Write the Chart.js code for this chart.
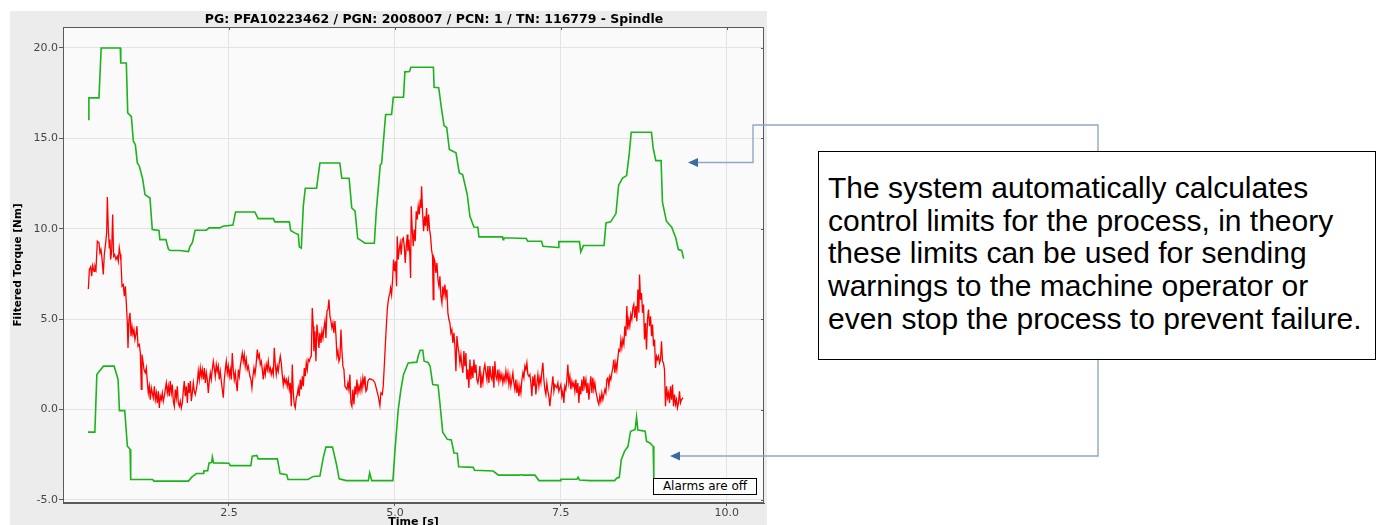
<!DOCTYPE html>
<html>
<head>
<meta charset="utf-8">
<script src="https://cdn.jsdelivr.net/npm/chart.js@4.4.0/dist/chart.umd.min.js"></script>
<style>
  html, body { margin: 0; padding: 0; width: 1376px; height: 525px; overflow: hidden; background: #ffffff; }
  #panel { position: absolute; left: 10px; top: 11px; width: 757px; height: 530px; background: #ececec; }
  #chart { display: block; }
  #alarm { position: absolute; left: 653px; top: 478px; width: 104px; height: 17px; box-sizing: border-box;
           border: 1px solid #000; background: #fff; font: 12px "DejaVu Sans"; line-height: 15px;
           text-align: center; color: #000; }
  #note { position: absolute; left: 818px; top: 151px; width: 558px; height: 209px; box-sizing: border-box;
          border: 1.5px solid #000; background: #fff; }
  #noteText { position: absolute; left: 828px; top: 172px; font: 30px "Liberation Sans", Arial, sans-serif;
              line-height: 32.7px; color: #000; white-space: nowrap; }
  #links { position: absolute; left: 0; top: 0; }
</style>
</head>
<body>
<div id="panel"><canvas id="chart" width="757" height="530"></canvas></div>
<div id="alarm">Alarms are off</div>
<svg id="links" width="1376" height="525">
  <polyline points="697,162.5 753,162.5 753,125 1098,125 1098,151" fill="none" stroke="#8fa8c6" stroke-width="1.4"/>
  <polygon points="688,162.5 698,158 698,167" fill="#3c6c9f"/>
  <polyline points="1098,359 1098,456 679,456" fill="none" stroke="#8fa8c6" stroke-width="1.4"/>
  <polygon points="670,456 680,451.5 680,460.5" fill="#3c6c9f"/>
</svg>
<div id="note"></div>
<div id="noteText">The system automatically calculates<br>control limits for the process, in theory<br>these limits can be used for sending<br>warnings to the machine operator or<br>even stop the process to prevent failure.</div>

<script>
// Axis ticks
const timeTicks = [2.5, 5.0, 7.5, 10.0];
const torqueTicks = [-5, 0, 5, 10, 15, 20];

// Upper control limit [time s, torque Nm]
const upperLimit = [
  [0.377,16.04],[0.39,17.24],[0.542,17.24],[0.575,20.0],[0.863,20.0],[0.87,19.17],[0.954,19.17],
  [0.975,16.41],[1.03,16.2],[1.06,14.84],[1.09,14.65],[1.12,13.64],[1.15,13.46],[1.20,12.76],
  [1.235,11.89],[1.31,11.7],[1.345,9.96],[1.446,9.9],[1.46,9.4],[1.55,9.4],[1.586,8.89],[1.61,8.8],
  [1.76,8.8],[1.89,8.74],[1.91,9.0],[1.95,9.24],[1.99,9.92],[2.16,9.92],[2.2,10.05],[2.36,10.05],
  [2.41,10.14],[2.56,10.2],[2.6,10.93],[2.89,10.93],[2.94,10.56],[3.17,10.56],[3.19,10.38],
  [3.41,10.38],[3.43,9.9],[3.49,9.77],[3.545,9.68],[3.56,9.0],[3.59,8.93],[3.62,11.25],[3.65,12.24],
  [3.82,12.24],[3.87,13.64],[4.17,13.64],[4.2,12.79],[4.31,12.79],[4.35,11.15],[4.4,10.97],
  [4.44,9.46],[4.47,9.4],[4.55,9.2],[4.69,9.2],[4.72,11.0],[4.78,13.55],[4.8,13.6],[4.86,16.32],
  [4.95,16.32],[4.975,17.27],[5.13,17.27],[5.15,18.68],[5.22,18.7],[5.24,18.93],[5.58,18.93],
  [5.59,17.83],[5.66,17.8],[5.70,16.69],[5.74,15.71],[5.78,15.6],[5.82,14.38],[5.92,14.2],
  [5.97,13.09],[6.02,13.0],[6.09,11.89],[6.13,10.69],[6.19,10.1],[6.25,10.08],[6.265,9.55],
  [6.62,9.55],[6.63,9.4],[6.64,9.5],[6.98,9.46],[7.0,9.31],[7.21,9.31],[7.23,9.03],[7.46,8.96],
  [7.47,9.29],[7.78,9.29],[7.80,8.72],[7.84,9.07],[8.15,9.07],[8.18,10.32],[8.25,10.38],
  [8.33,10.84],[8.37,12.41],[8.43,12.8],[8.49,12.94],[8.53,14.14],[8.56,15.34],[8.865,15.34],
  [8.89,14.47],[8.93,13.77],[9.01,13.77],[9.03,11.47],[9.09,10.42],[9.17,10.09],[9.23,9.5],
  [9.27,8.85],[9.32,8.8],[9.35,8.35]
];

// Lower control limit [time s, torque Nm]
const lowerLimit = [
  [0.377,-1.25],[0.48,-1.25],[0.51,1.94],[0.53,2.03],[0.61,2.4],[0.77,2.4],[0.80,2.03],[0.83,1.66],
  [0.85,-0.06],[0.93,-0.06],[0.97,-2.03],[1.01,-2.2],[1.02,-3.87],[1.35,-3.87],[1.37,-3.96],
  [1.89,-3.96],[1.94,-3.74],[2.01,-3.54],[2.11,-3.54],[2.12,-3.4],[2.18,-3.38],[2.2,-2.95],
  [2.24,-2.93],[2.25,-2.62],[2.27,-2.95],[2.5,-2.97],[2.52,-3.1],[2.83,-3.1],[2.85,-2.58],
  [2.92,-2.54],[2.94,-2.73],[3.23,-2.73],[3.27,-3.54],[3.37,-3.6],[3.39,-3.87],[3.69,-3.87],
  [3.77,-3.7],[3.87,-3.68],[3.92,-2.67],[3.96,-2.08],[4.06,-2.08],[4.12,-3.04],[4.16,-3.83],
  [4.27,-3.93],[4.6,-3.93],[4.62,-3.5],[4.65,-3.93],[4.97,-3.93],[5.0,-2.3],[5.05,0.0],[5.09,1.1],
  [5.13,1.94],[5.2,2.58],[5.33,2.62],[5.35,2.95],[5.38,3.28],[5.42,3.28],[5.44,2.67],[5.5,2.6],
  [5.53,2.4],[5.57,1.38],[5.65,1.35],[5.68,0.28],[5.72,-1.25],[5.79,-1.65],[5.85,-1.68],
  [5.89,-2.4],[5.94,-2.42],[5.96,-3.17],[6.18,-3.2],[6.2,-3.36],[6.48,-3.4],[6.56,-3.63],
  [6.88,-3.63],[6.9,-3.6],[6.92,-3.63],[7.11,-3.63],[7.17,-3.93],[7.49,-3.93],[7.5,-3.86],
  [7.74,-3.86],[7.76,-3.74],[7.78,-3.9],[7.94,-3.93],[8.31,-3.93],[8.34,-3.8],[8.38,-3.75],
  [8.41,-2.77],[8.46,-2.3],[8.51,-2.05],[8.55,-1.2],[8.62,-1.1],[8.64,-0.41],[8.66,-1.14],
  [8.77,-1.2],[8.79,-1.75],[8.84,-1.85],[8.89,-2.03],[8.9,-3.78],[8.92,-3.95],[9.35,-3.95]
];

// Filtered spindle torque [time s, torque Nm]
const measuredTorque = [
  [0.382,6.67],[0.397,7.74],[0.417,7.89],[0.432,7.37],[0.447,7.96],[0.467,7.65],[0.482,7.93],[0.497,7.74],
  [0.517,9.31],[0.542,9.22],[0.557,8.67],[0.572,8.85],[0.587,8.39],[0.607,7.47],[0.622,8.57],[0.643,9.22],
  [0.658,9.77],[0.668,11.76],[0.683,9.96],[0.698,8.94],[0.708,9.40],[0.718,8.30],[0.733,8.76],[0.748,10.79],
  [0.763,8.48],[0.778,8.57],[0.798,8.30],[0.818,8.48],[0.833,8.20],[0.848,8.94],[0.863,8.57],[0.873,8.20],
  [0.889,6.82],[0.909,6.91],[0.924,6.27],[0.939,6.82],[0.954,5.90],[0.969,4.79],[0.979,3.41],[0.994,4.98],
  [1.009,5.35],[1.024,4.06],[1.039,4.61],[1.054,4.15],[1.069,4.42],[1.084,3.87],[1.099,4.15],[1.114,4.61],
  [1.130,3.50],[1.150,3.60],[1.165,3.13],[1.180,1.11],[1.190,3.04],[1.205,2.67],[1.220,2.21],[1.240,2.03],
  [1.255,2.30],[1.270,1.57],[1.285,0.92],[1.300,1.29],[1.315,0.55],[1.330,1.20],[1.345,0.92],[1.360,0.65],
  [1.376,1.29],[1.391,0.55],[1.406,0.92],[1.421,0.37],[1.436,1.01],[1.451,0.09],[1.466,0.74],[1.481,0.55],
  [1.496,0.92],[1.511,0.46],[1.526,0.74],[1.541,1.11],[1.556,1.47],[1.571,0.92],[1.586,1.29],[1.601,0.74],
  [1.616,1.57],[1.632,0.92],[1.647,1.38],[1.662,0.46],[1.677,0.18],[1.692,1.11],[1.707,0.65],[1.722,1.29],
  [1.737,0.37],[1.752,0.18],[1.767,0.46],[1.782,0.09],[1.797,0.37],[1.812,1.01],[1.827,1.57],[1.842,0.74],
  [1.857,1.29],[1.873,0.37],[1.888,1.47],[1.903,0.92],[1.918,1.57],[1.933,0.46],[1.948,0.92],[1.963,1.47],
  [1.978,1.01],[1.993,0.83],[2.008,1.11],[2.023,1.47],[2.038,2.12],[2.053,1.66],[2.068,2.30],[2.083,1.84],
  [2.098,2.21],[2.113,1.66],[2.129,2.30],[2.144,1.47],[2.159,2.03],[2.174,1.66],[2.189,0.92],[2.204,1.57],
  [2.219,2.03],[2.234,1.66],[2.249,2.21],[2.264,2.67],[2.279,2.30],[2.294,1.84],[2.309,2.49],[2.324,2.12],
  [2.339,2.40],[2.354,1.66],[2.369,2.12],[2.385,1.57],[2.400,1.11],[2.415,0.65],[2.430,1.66],[2.445,2.21],
  [2.460,2.67],[2.475,2.03],[2.490,2.40],[2.505,1.84],[2.520,2.21],[2.535,1.66],[2.550,3.13],[2.565,2.21],
  [2.580,1.66],[2.595,2.03],[2.610,1.47],[2.625,1.01],[2.641,2.21],[2.656,1.84],[2.671,2.40],[2.686,2.77],
  [2.701,3.13],[2.716,2.67],[2.731,3.04],[2.746,2.40],[2.761,2.77],[2.776,2.21],[2.791,2.40],[2.816,1.84],
  [2.831,1.66],[2.846,1.20],[2.861,1.84],[2.877,2.30],[2.892,1.94],[2.907,2.40],[2.927,3.32],[2.942,2.86],
  [2.957,3.04],[2.972,2.49],[2.987,2.67],[3.002,2.21],[3.017,1.66],[3.032,2.30],[3.047,1.94],[3.062,2.49],
  [3.077,2.21],[3.092,2.67],[3.107,2.12],[3.122,2.30],[3.137,1.94],[3.153,2.21],[3.168,1.94],[3.183,3.41],
  [3.198,2.49],[3.213,1.94],[3.228,2.40],[3.243,2.12],[3.258,2.58],[3.273,2.95],[3.288,2.58],[3.303,1.94],
  [3.318,1.38],[3.333,1.75],[3.348,1.47],[3.363,1.66],[3.378,1.29],[3.394,1.66],[3.409,1.11],[3.424,1.47],
  [3.439,0.18],[3.454,2.49],[3.469,0.92],[3.484,0.28],[3.499,0.09],[3.514,0.65],[3.529,0.83],[3.544,1.20],
  [3.559,0.74],[3.574,1.66],[3.589,1.11],[3.605,1.84],[3.620,1.29],[3.635,2.30],[3.650,1.84],[3.665,2.58],
  [3.680,2.21],[3.695,2.77],[3.710,2.67],[3.725,2.86],[3.740,2.95],[3.755,5.62],[3.770,4.61],[3.780,3.23],
  [3.795,4.33],[3.810,2.67],[3.825,4.70],[3.840,4.15],[3.855,3.41],[3.870,4.24],[3.886,3.69],[3.901,4.33],
  [3.916,3.96],[3.931,4.52],[3.946,4.89],[3.961,3.96],[3.976,5.44],[3.991,5.53],[4.006,6.08],[4.021,5.16],
  [4.036,4.89],[4.051,4.52],[4.066,4.79],[4.081,4.24],[4.096,4.89],[4.111,4.15],[4.127,2.95],[4.142,3.23],
  [4.157,2.67],[4.172,2.86],[4.187,4.42],[4.202,3.23],[4.217,2.40],[4.232,2.21],[4.247,1.29],[4.262,1.20],
  [4.277,1.11],[4.292,1.47],[4.307,1.11],[4.322,1.94],[4.337,0.37],[4.352,0.18],[4.367,1.11],[4.383,0.28],
  [4.398,1.29],[4.413,0.83],[4.428,1.66],[4.443,0.92],[4.458,1.29],[4.473,1.01],[4.488,1.57],[4.503,1.11],
  [4.518,1.75],[4.533,1.38],[4.548,1.84],[4.563,1.01],[4.578,1.11],[4.593,1.57],[4.608,1.66],[4.623,1.70],
  [4.649,1.66],[4.674,1.62],[4.699,1.47],[4.724,1.11],[4.749,0.74],[4.774,0.22],[4.789,0.92],[4.810,0.83],
  [4.824,1.29],[4.845,2.77],[4.865,4.24],[4.885,5.53],[4.905,6.18],[4.925,6.45],[4.935,6.73],[4.950,6.36],
  [4.965,7.19],[4.980,8.30],[4.995,7.65],[5.010,8.20],[5.025,6.82],[5.035,9.59],[5.050,8.30],[5.065,8.85],
  [5.080,9.22],[5.095,8.57],[5.110,9.40],[5.126,9.49],[5.141,9.03],[5.156,8.11],[5.171,9.03],[5.186,9.68],
  [5.196,8.76],[5.211,9.40],[5.226,8.48],[5.236,7.28],[5.246,11.25],[5.261,9.96],[5.276,9.03],[5.291,9.96],
  [5.306,9.31],[5.321,10.97],[5.336,10.51],[5.351,11.25],[5.367,10.79],[5.382,11.62],[5.392,11.15],[5.402,12.35],
  [5.417,10.88],[5.432,9.86],[5.447,10.69],[5.462,10.14],[5.477,11.15],[5.492,9.86],[5.507,10.79],[5.522,9.96],
  [5.537,9.59],[5.552,8.85],[5.567,8.48],[5.577,6.08],[5.587,8.39],[5.602,8.20],[5.617,7.56],[5.633,8.11],
  [5.648,7.19],[5.663,6.82],[5.678,7.37],[5.693,6.27],[5.708,5.90],[5.723,6.82],[5.738,6.36],[5.753,6.91],
  [5.768,6.27],[5.783,6.64],[5.798,5.35],[5.813,4.98],[5.828,4.79],[5.843,4.24],[5.858,4.42],[5.873,3.69],
  [5.889,4.24],[5.904,3.50],[5.919,2.12],[5.934,4.06],[5.949,3.50],[5.964,3.13],[5.979,2.58],[5.994,3.04],
  [6.009,2.40],[6.024,2.03],[6.039,3.23],[6.054,2.40],[6.069,3.13],[6.084,1.66],[6.099,2.21],[6.114,1.20],
  [6.130,2.77],[6.145,1.66],[6.160,2.40],[6.175,1.75],[6.190,2.77],[6.205,2.03],[6.220,2.49],[6.235,1.66],
  [6.250,1.47],[6.265,1.84],[6.280,2.40],[6.295,1.20],[6.310,1.84],[6.325,1.47],[6.340,2.21],[6.355,2.49],
  [6.371,2.03],[6.386,1.66],[6.401,2.40],[6.416,1.47],[6.431,2.40],[6.446,1.84],[6.461,1.66],[6.476,2.40],
  [6.491,1.20],[6.506,2.67],[6.521,1.84],[6.536,1.66],[6.551,2.21],[6.566,1.57],[6.581,2.03],[6.596,1.66],
  [6.611,1.94],[6.627,1.47],[6.642,1.84],[6.657,1.57],[6.672,2.12],[6.687,1.66],[6.702,2.03],[6.717,1.38],
  [6.732,1.84],[6.747,1.29],[6.762,1.66],[6.777,2.03],[6.792,1.47],[6.807,1.11],[6.822,1.66],[6.837,0.92],
  [6.852,1.38],[6.868,0.74],[6.883,1.29],[6.898,0.92],[6.913,1.66],[6.928,2.03],[6.943,1.75],[6.958,2.40],
  [6.973,2.21],[6.988,2.58],[7.003,1.94],[7.018,1.84],[7.033,1.94],[7.048,1.47],[7.063,0.74],[7.078,1.84],
  [7.093,1.29],[7.108,1.94],[7.123,0.83],[7.139,1.47],[7.154,1.94],[7.169,1.29],[7.184,1.75],[7.199,1.47],
  [7.214,2.12],[7.229,2.58],[7.244,1.66],[7.259,1.11],[7.274,0.83],[7.289,1.47],[7.304,1.01],[7.319,0.74],
  [7.334,0.18],[7.349,0.74],[7.364,1.29],[7.380,1.84],[7.395,1.01],[7.410,1.38],[7.425,1.29],[7.440,1.20],
  [7.455,1.47],[7.470,1.01],[7.485,1.20],[7.500,1.38],[7.515,0.74],[7.530,1.01],[7.545,0.37],[7.560,1.29],
  [7.575,1.11],[7.590,1.66],[7.605,2.49],[7.620,1.47],[7.636,1.84],[7.651,1.11],[7.666,1.57],[7.681,1.29],
  [7.696,1.47],[7.711,1.01],[7.726,1.66],[7.741,0.92],[7.756,1.47],[7.771,0.37],[7.786,1.29],[7.801,0.83],
  [7.816,1.66],[7.831,1.01],[7.846,1.84],[7.861,1.29],[7.877,1.66],[7.892,0.92],[7.907,1.47],[7.922,0.55],
  [7.937,1.29],[7.952,1.84],[7.967,0.92],[7.982,1.75],[7.997,1.11],[8.012,1.47],[8.027,1.01],[8.042,0.74],
  [8.057,0.46],[8.072,0.28],[8.087,0.74],[8.102,0.46],[8.117,0.92],[8.133,0.55],[8.148,0.83],[8.163,1.11],
  [8.178,0.92],[8.193,1.66],[8.208,1.75],[8.223,1.29],[8.238,1.84],[8.253,1.66],[8.268,2.03],[8.283,2.30],
  [8.298,2.77],[8.313,2.03],[8.328,2.58],[8.343,2.21],[8.358,2.86],[8.373,3.32],[8.389,3.23],[8.404,3.87],
  [8.419,3.41],[8.434,3.87],[8.449,3.60],[8.464,4.61],[8.479,4.06],[8.494,5.72],[8.509,4.42],[8.524,4.98],
  [8.539,4.61],[8.554,5.25],[8.569,4.98],[8.584,5.62],[8.599,5.81],[8.614,5.07],[8.630,5.72],[8.645,4.89],
  [8.660,6.64],[8.675,5.35],[8.685,7.47],[8.700,6.08],[8.715,6.45],[8.730,5.35],[8.745,5.81],[8.760,3.87],
  [8.775,4.79],[8.790,3.32],[8.805,4.98],[8.820,5.53],[8.835,4.61],[8.851,5.16],[8.866,4.06],[8.881,4.70],
  [8.896,3.50],[8.911,3.87],[8.926,2.30],[8.941,2.95],[8.956,2.77],[8.971,2.95],[8.986,2.58],[9.001,2.77],
  [9.016,3.78],[9.031,2.67],[9.046,2.58],[9.061,2.21],[9.076,0.18],[9.092,1.29],[9.107,0.65],[9.122,0.92],
  [9.137,0.37],[9.152,1.29],[9.167,0.55],[9.182,1.38],[9.197,0.18],[9.212,0.83],[9.227,0.28],[9.242,0.55],
  [9.257,0.09],[9.272,0.37],[9.287,1.01],[9.302,0.37],[9.317,0.55],[9.342,0.65]
];

const titleText = 'PG: PFA10223462 / PGN: 2008007 / PCN: 1 / TN: 116779 - Spindle';
const LIMIT_GREEN = '#1cb31c';
const TORQUE_RED = '#ff0000';
const FRAME = '#5a5a5a';

const toPoints = rows => rows.map(([x, y]) => ({ x, y }));

// Plot background, frame, inner ticks on top/right edges and the header line
const plotFrame = {
  id: 'plotFrame',
  beforeDraw(chart) {
    const { ctx, chartArea: a } = chart;
    ctx.save();
    ctx.fillStyle = '#fafafa';
    ctx.fillRect(a.left, a.top, a.right - a.left, a.bottom - a.top);
    ctx.restore();
  },
  afterDraw(chart) {
    const { ctx, chartArea: a, scales } = chart;
    ctx.save();
    ctx.strokeStyle = FRAME;
    ctx.lineWidth = 1;
    ctx.strokeRect(Math.round(a.left) + 0.5, Math.round(a.top) + 0.5,
                   Math.round(a.right - a.left) - 1, Math.round(a.bottom - a.top) - 1);
    ctx.beginPath();
    timeTicks.forEach(v => {
      const px = Math.round(scales.x.getPixelForValue(v)) + 0.5;
      ctx.moveTo(px, a.top); ctx.lineTo(px, a.top + 3);
    });
    torqueTicks.forEach(v => {
      const py = Math.round(scales.y.getPixelForValue(v)) + 0.5;
      ctx.moveTo(a.right - 3, py); ctx.lineTo(a.right, py);
    });
    ctx.stroke();
    ctx.fillStyle = '#000';
    ctx.font = 'bold 12.5px "DejaVu Sans"';
    ctx.textAlign = 'center';
    ctx.textBaseline = 'middle';
    ctx.fillText(titleText, 424, 8.5);
    ctx.restore();
  }
};

const tickFont = { family: 'DejaVu Sans', size: 11 };
const axisTitleFont = { family: 'DejaVu Sans', size: 11, weight: 'bold' };

new Chart(document.getElementById('chart'), {
  type: 'line',
  data: {
    datasets: [
      { label: 'Upper limit', data: toPoints(upperLimit), borderColor: LIMIT_GREEN, borderWidth: 1.6,
        pointRadius: 0, tension: 0, fill: false },
      { label: 'Filtered torque', data: toPoints(measuredTorque), borderColor: TORQUE_RED, borderWidth: 1.3,
        pointRadius: 0, tension: 0, fill: false },
      { label: 'Lower limit', data: toPoints(lowerLimit), borderColor: LIMIT_GREEN, borderWidth: 1.6,
        pointRadius: 0, tension: 0, fill: false }
    ]
  },
  options: {
    responsive: false,
    animation: false,
    parsing: true,
    layout: { padding: { left: 0, right: 3, top: 16, bottom: 0 } },
    plugins: {
      legend: { display: false },
      tooltip: { enabled: false },
      title: { display: false }
    },
    scales: {
      x: {
        type: 'linear', min: 0, max: 10.56,
        afterBuildTicks: s => { s.ticks = timeTicks.map(v => ({ value: v })); },
        afterFit: s => { s.height = 38; },
        ticks: { callback: v => Number(v).toFixed(1), font: tickFont, color: '#444', padding: 1,
                 maxRotation: 0, autoSkip: false },
        grid: { color: '#e3e3e3', tickColor: FRAME, tickLength: 3 },
        border: { color: FRAME },
        title: { display: true, text: 'Time [s]', font: axisTitleFont, color: '#000',
                 padding: { top: 0, bottom: 12.4 } }
      },
      y: {
        type: 'linear', min: -5.17, max: 21.16,
        afterBuildTicks: s => { s.ticks = torqueTicks.map(v => ({ value: v })); },
        afterFit: s => { s.width = 53; },
        ticks: { callback: v => Number(v).toFixed(1), font: tickFont, color: '#444', padding: 1 },
        grid: { color: '#e3e3e3', tickColor: FRAME, tickLength: 4 },
        border: { color: FRAME },
        title: { display: true, text: 'Filtered Torque [Nm]', font: { family: 'DejaVu Sans', size: 10.5, weight: 'bold' },
                 color: '#000', padding: { top: 1.7, bottom: 0 } }
      }
    }
  },
  plugins: [plotFrame]
});
</script>
</body>
</html>
